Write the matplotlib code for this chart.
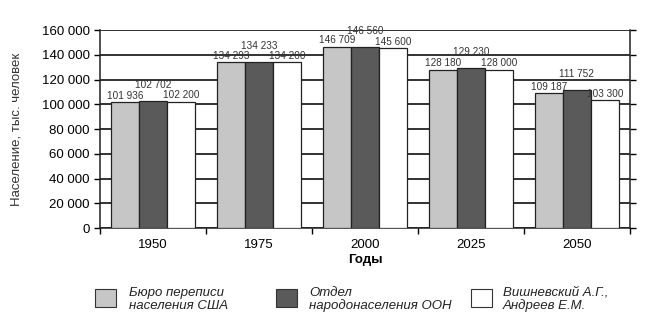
import matplotlib.pyplot as plt
from matplotlib.patches import Rectangle
import numpy as np

plt.rcParams['font.family'] = ['Liberation Sans', 'DejaVu Sans']

# --- Data ---
years = ["1950", "1975", "2000", "2025", "2050"]
census_us = [101936, 134293, 146709, 128180, 109187]
un_division = [102702, 134233, 146560, 129230, 111752]
vishnevsky = [102200, 134200, 145600, 128000, 103300]
series_labels = ["Бюро переписи\nнаселения США",
                 "Отдел\nнародонаселения ООН",
                 "Вишневский А.Г.,\nАндреев Е.М."]

colors = ["#c6c6c6", "#5a5a5a", "#ffffff"]
label_offsets = [1, 8, 1]  # dark series labels sit higher

fig = plt.figure(figsize=(6.46, 3.24), dpi=100)
ax = fig.add_axes([0.155, 0.296, 0.82, 0.611])

x = np.arange(len(years))
w = 0.265

for i, (vals, col) in enumerate(zip([census_us, un_division, vishnevsky], colors)):
    pos = x + (i - 1) * w
    ax.bar(pos, vals, width=w, color=col, edgecolor="#222222", linewidth=0.9, zorder=3)
    for px, v in zip(pos, vals):
        txt = f"{v:,}".replace(",", " ")
        ax.annotate(txt, (px, v), xytext=(0, label_offsets[i]), textcoords="offset points",
                    ha="center", va="bottom", fontsize=7.2, color="#333333", zorder=4)

# Axes and grid
ax.set_xlim(-0.5, len(years) - 0.5)
ax.set_ylim(0, 160000)
ax.set_yticks(np.arange(0, 160001, 20000))
ax.set_yticklabels([f"{v:,}".replace(",", " ") for v in range(0, 160001, 20000)], fontsize=9.5)
ax.yaxis.grid(True, color="#222222", linewidth=1.3, zorder=0)
ax.set_axisbelow(True)

ax.set_xticks(x)
ax.set_xticklabels(years, fontsize=9.5)
ax.tick_params(axis="x", which="major", length=0, pad=8)
ax.set_xticks(np.arange(-0.5, len(years)), minor=True)
ax.tick_params(axis="x", which="minor", length=4, direction="out", width=1)
ax.tick_params(axis="y", length=4, width=1, right=True, direction="out")

for s in ["left", "bottom", "right"]:
    ax.spines[s].set_linewidth(1.1)
    ax.spines[s].set_color("#222222")
ax.spines["top"].set_visible(False)

ax.set_xlabel("Годы", fontsize=9.5, fontweight="bold", labelpad=2)
ax.set_ylabel("Население, тыс. человек", fontsize=9.5, color="#333333", labelpad=14)

# Legend, placed by hand (figure pixel positions)
W, H = 646, 324
legend_x = [95, 276, 471]
text_x = [129, 309, 503]
for lx, tx, c, lab in zip(legend_x, text_x, colors, series_labels):
    fig.patches.append(Rectangle((lx / W, 1 - 307 / H), 21 / W, 18 / H,
                                 transform=fig.transFigure, facecolor=c,
                                 edgecolor="#333333", linewidth=0.8))
    fig.text(tx / W, 1 - 299.5 / H, lab, fontsize=9.5, style="italic",
             color="#222222", va="center", ha="left", linespacing=1.1)

fig.savefig("out.png", dpi=100)
